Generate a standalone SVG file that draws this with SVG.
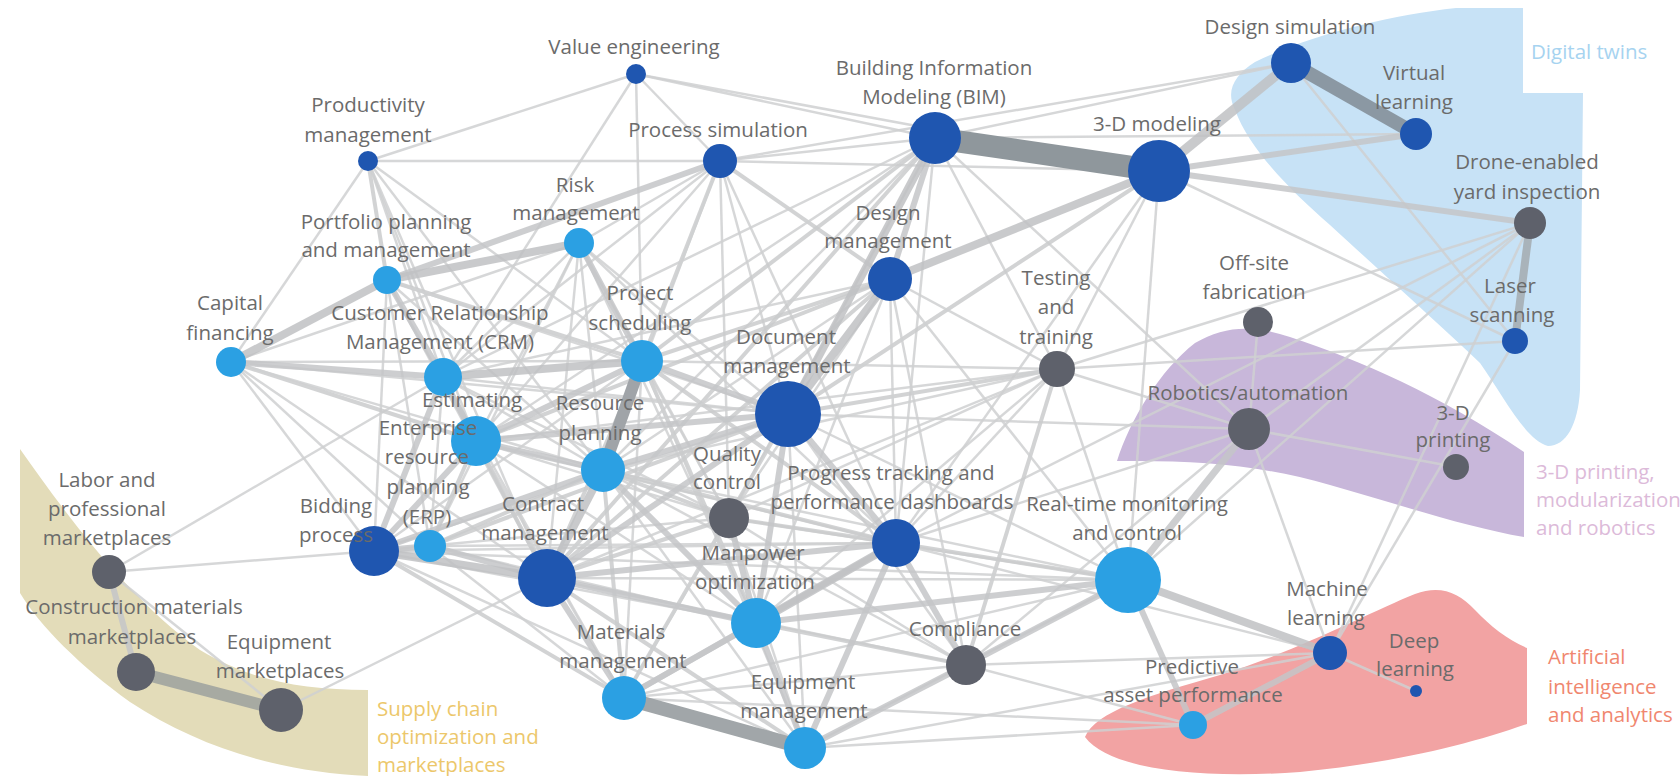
<svg xmlns="http://www.w3.org/2000/svg" width="1680" height="776" viewBox="0 0 1680 776">
<style>
text{font-family:"Open Sans","Noto Sans",sans-serif;font-size:20.5px;fill:#6b6b6b;text-anchor:middle}
.reg{text-anchor:start}
.D{fill:#1f56b0}.L{fill:#2ba0e3}.G{fill:#5e616b}
#edges line{stroke-opacity:0.85}
.a{stroke:#cfd0d1;stroke-width:2.5}
.b{stroke:#cacbcd;stroke-width:4}
.c{stroke:#c4c6c8;stroke-width:6}
.d{stroke:#bfc1c3;stroke-width:8}
</style>
<rect width="1680" height="776" fill="#ffffff"/>
<g id="regions">
<path d="M1456,8 L1523,8 L1523,93 L1583,93 L1580,390 C1578,425 1566,446 1548,446 C1525,440 1503,395 1480,363 C1440,325 1390,280 1330,225 C1290,190 1250,150 1235,110 C1225,90 1235,75 1255,62 C1310,35 1390,15 1456,8 Z" fill="#c7e2f6"/>
<path d="M1117,461 C1130,420 1160,370 1195,343 C1225,325 1255,325 1290,337 C1360,360 1440,395 1524,452 L1524,537 C1470,528 1400,505 1330,485 C1260,465 1200,460 1117,461 Z" fill="#c8b7da"/>
<path d="M1085,737 C1095,712 1150,695 1220,675 C1300,650 1370,612 1415,594 C1440,585 1458,592 1475,610 C1490,626 1508,640 1527,648 L1527,724 C1470,744 1400,762 1300,772 C1200,779 1110,770 1085,737 Z" fill="#f2a3a3"/>
<path d="M20,449 C70,520 130,600 200,650 C250,680 300,690 368,690 L368,776 C280,772 200,748 130,702 C80,666 40,626 20,593 Z" fill="#e3dcb9"/>
<text class="reg" x="1531" y="59" style="fill:#a6d3f0">Digital twins</text>
<text class="reg" x="1536" y="479" style="fill:#dcbad9">3-D printing,</text>
<text class="reg" x="1536" y="507" style="fill:#dcbad9">modularization</text>
<text class="reg" x="1536" y="535" style="fill:#dcbad9">and robotics</text>
<text class="reg" x="1548" y="664" style="fill:#f0876f">Artificial</text>
<text class="reg" x="1548" y="694" style="fill:#f0876f">intelligence</text>
<text class="reg" x="1548" y="722" style="fill:#f0876f">and analytics</text>
<text class="reg" x="377" y="716" style="fill:#ecc76b">Supply chain</text>
<text class="reg" x="377" y="744" style="fill:#ecc76b">optimization and</text>
<text class="reg" x="377" y="772" style="fill:#ecc76b">marketplaces</text>
</g>
<g id="edges">
<line class="a" x1="636" y1="74" x2="368" y2="161"/>
<line class="a" x1="636" y1="74" x2="720" y2="161"/>
<line class="a" x1="636" y1="74" x2="935" y2="138"/>
<line class="a" x1="636" y1="74" x2="1159" y2="171"/>
<line class="a" x1="636" y1="74" x2="642" y2="361"/>
<line class="a" x1="636" y1="74" x2="443" y2="377"/>
<line class="a" x1="368" y1="161" x2="720" y2="161"/>
<line class="a" x1="368" y1="161" x2="231" y2="362"/>
<line class="b" x1="368" y1="161" x2="387" y2="280"/>
<line class="a" x1="368" y1="161" x2="443" y2="377"/>
<line class="a" x1="368" y1="161" x2="476" y2="441"/>
<line class="a" x1="368" y1="161" x2="642" y2="361"/>
<line class="a" x1="368" y1="161" x2="603" y2="470"/>
<line class="a" x1="368" y1="161" x2="547" y2="578"/>
<line class="a" x1="720" y1="161" x2="935" y2="138"/>
<line class="a" x1="720" y1="161" x2="1159" y2="171"/>
<line class="a" x1="720" y1="161" x2="579" y2="243"/>
<line class="b" x1="720" y1="161" x2="642" y2="361"/>
<line class="a" x1="720" y1="161" x2="788" y2="414"/>
<line class="b" x1="720" y1="161" x2="890" y2="279"/>
<line class="a" x1="720" y1="161" x2="603" y2="470"/>
<line class="a" x1="720" y1="161" x2="476" y2="441"/>
<line class="a" x1="720" y1="161" x2="443" y2="377"/>
<line class="a" x1="720" y1="161" x2="896" y2="543"/>
<line class="a" x1="720" y1="161" x2="729" y2="518"/>
<line class="a" x1="720" y1="161" x2="1291" y2="63"/>
<line class="a" x1="935" y1="138" x2="1291" y2="63"/>
<line class="b" x1="935" y1="138" x2="642" y2="361"/>
<line class="a" x1="935" y1="138" x2="476" y2="441"/>
<line class="a" x1="935" y1="138" x2="443" y2="377"/>
<line class="b" x1="935" y1="138" x2="547" y2="578"/>
<line class="a" x1="935" y1="138" x2="603" y2="470"/>
<line class="a" x1="935" y1="138" x2="1057" y2="369"/>
<line class="a" x1="935" y1="138" x2="1249" y2="429"/>
<line class="a" x1="935" y1="138" x2="896" y2="543"/>
<line class="a" x1="935" y1="138" x2="729" y2="518"/>
<line class="a" x1="935" y1="138" x2="1416" y2="134"/>
<line class="a" x1="1159" y1="171" x2="1515" y2="341"/>
<line class="a" x1="1159" y1="171" x2="1057" y2="369"/>
<line class="b" x1="1159" y1="171" x2="788" y2="414"/>
<line class="a" x1="1159" y1="171" x2="896" y2="543"/>
<line class="a" x1="1159" y1="171" x2="1128" y2="580"/>
<line class="a" x1="1291" y1="63" x2="1515" y2="341"/>
<line class="a" x1="1530" y1="223" x2="1128" y2="580"/>
<line class="a" x1="1530" y1="223" x2="1249" y2="429"/>
<line class="a" x1="1530" y1="223" x2="1330" y2="653"/>
<line class="a" x1="1530" y1="223" x2="1057" y2="369"/>
<line class="a" x1="1530" y1="223" x2="896" y2="543"/>
<line class="a" x1="1515" y1="341" x2="1057" y2="369"/>
<line class="a" x1="1515" y1="341" x2="1330" y2="653"/>
<line class="a" x1="1258" y1="322" x2="1249" y2="429"/>
<line class="a" x1="1249" y1="429" x2="1456" y2="467"/>
<line class="a" x1="1249" y1="429" x2="1330" y2="653"/>
<line class="a" x1="1249" y1="429" x2="1057" y2="369"/>
<line class="a" x1="1249" y1="429" x2="896" y2="543"/>
<line class="a" x1="1249" y1="429" x2="788" y2="414"/>
<line class="a" x1="1249" y1="429" x2="966" y2="665"/>
<line class="b" x1="1057" y1="369" x2="788" y2="414"/>
<line class="a" x1="1057" y1="369" x2="642" y2="361"/>
<line class="a" x1="1057" y1="369" x2="603" y2="470"/>
<line class="a" x1="1057" y1="369" x2="476" y2="441"/>
<line class="a" x1="1057" y1="369" x2="547" y2="578"/>
<line class="a" x1="1057" y1="369" x2="896" y2="543"/>
<line class="a" x1="1057" y1="369" x2="1128" y2="580"/>
<line class="b" x1="1057" y1="369" x2="966" y2="665"/>
<line class="a" x1="1057" y1="369" x2="756" y2="623"/>
<line class="a" x1="1057" y1="369" x2="729" y2="518"/>
<line class="a" x1="1128" y1="580" x2="788" y2="414"/>
<line class="a" x1="1128" y1="580" x2="547" y2="578"/>
<line class="a" x1="1128" y1="580" x2="805" y2="748"/>
<line class="a" x1="1128" y1="580" x2="729" y2="518"/>
<line class="a" x1="1128" y1="580" x2="624" y2="698"/>
<line class="b" x1="1128" y1="580" x2="896" y2="543"/>
<line class="a" x1="1128" y1="580" x2="890" y2="279"/>
<line class="a" x1="1128" y1="580" x2="603" y2="470"/>
<line class="a" x1="1128" y1="580" x2="374" y2="551"/>
<line class="a" x1="1330" y1="653" x2="1416" y2="691"/>
<line class="a" x1="1330" y1="653" x2="966" y2="665"/>
<line class="a" x1="1330" y1="653" x2="896" y2="543"/>
<line class="a" x1="1330" y1="653" x2="805" y2="748"/>
<line class="a" x1="1193" y1="725" x2="805" y2="748"/>
<line class="a" x1="1193" y1="725" x2="624" y2="698"/>
<line class="a" x1="1193" y1="725" x2="966" y2="665"/>
<line class="a" x1="966" y1="665" x2="788" y2="414"/>
<line class="a" x1="966" y1="665" x2="547" y2="578"/>
<line class="b" x1="966" y1="665" x2="756" y2="623"/>
<line class="a" x1="966" y1="665" x2="624" y2="698"/>
<line class="a" x1="966" y1="665" x2="729" y2="518"/>
<line class="a" x1="966" y1="665" x2="890" y2="279"/>
<line class="a" x1="966" y1="665" x2="603" y2="470"/>
<line class="a" x1="109" y1="572" x2="374" y2="551"/>
<line class="a" x1="109" y1="572" x2="443" y2="377"/>
<line class="a" x1="109" y1="572" x2="281" y2="710"/>
<line class="a" x1="281" y1="710" x2="547" y2="578"/>
<line class="a" x1="374" y1="551" x2="231" y2="362"/>
<line class="a" x1="374" y1="551" x2="387" y2="280"/>
<line class="a" x1="374" y1="551" x2="642" y2="361"/>
<line class="b" x1="374" y1="551" x2="624" y2="698"/>
<line class="a" x1="374" y1="551" x2="756" y2="623"/>
<line class="a" x1="374" y1="551" x2="788" y2="414"/>
<line class="a" x1="374" y1="551" x2="729" y2="518"/>
<line class="a" x1="374" y1="551" x2="896" y2="543"/>
<line class="a" x1="374" y1="551" x2="805" y2="748"/>
<line class="b" x1="231" y1="362" x2="476" y2="441"/>
<line class="a" x1="231" y1="362" x2="642" y2="361"/>
<line class="a" x1="231" y1="362" x2="603" y2="470"/>
<line class="a" x1="231" y1="362" x2="430" y2="546"/>
<line class="a" x1="231" y1="362" x2="547" y2="578"/>
<line class="a" x1="231" y1="362" x2="579" y2="243"/>
<line class="a" x1="231" y1="362" x2="788" y2="414"/>
<line class="a" x1="443" y1="377" x2="579" y2="243"/>
<line class="a" x1="443" y1="377" x2="603" y2="470"/>
<line class="a" x1="443" y1="377" x2="547" y2="578"/>
<line class="a" x1="443" y1="377" x2="788" y2="414"/>
<line class="a" x1="443" y1="377" x2="430" y2="546"/>
<line class="a" x1="443" y1="377" x2="624" y2="698"/>
<line class="a" x1="443" y1="377" x2="729" y2="518"/>
<line class="b" x1="387" y1="280" x2="642" y2="361"/>
<line class="a" x1="387" y1="280" x2="476" y2="441"/>
<line class="a" x1="387" y1="280" x2="603" y2="470"/>
<line class="a" x1="387" y1="280" x2="788" y2="414"/>
<line class="a" x1="387" y1="280" x2="547" y2="578"/>
<line class="a" x1="387" y1="280" x2="430" y2="546"/>
<line class="a" x1="579" y1="243" x2="476" y2="441"/>
<line class="a" x1="579" y1="243" x2="603" y2="470"/>
<line class="a" x1="579" y1="243" x2="547" y2="578"/>
<line class="a" x1="579" y1="243" x2="788" y2="414"/>
<line class="a" x1="579" y1="243" x2="729" y2="518"/>
<line class="a" x1="579" y1="243" x2="756" y2="623"/>
<line class="a" x1="579" y1="243" x2="896" y2="543"/>
<line class="a" x1="579" y1="243" x2="430" y2="546"/>
<line class="a" x1="642" y1="361" x2="729" y2="518"/>
<line class="b" x1="642" y1="361" x2="756" y2="623"/>
<line class="b" x1="642" y1="361" x2="547" y2="578"/>
<line class="b" x1="642" y1="361" x2="896" y2="543"/>
<line class="a" x1="642" y1="361" x2="624" y2="698"/>
<line class="b" x1="642" y1="361" x2="890" y2="279"/>
<line class="a" x1="642" y1="361" x2="805" y2="748"/>
<line class="a" x1="890" y1="279" x2="603" y2="470"/>
<line class="b" x1="890" y1="279" x2="547" y2="578"/>
<line class="a" x1="890" y1="279" x2="896" y2="543"/>
<line class="b" x1="890" y1="279" x2="476" y2="441"/>
<line class="a" x1="890" y1="279" x2="729" y2="518"/>
<line class="a" x1="890" y1="279" x2="1057" y2="369"/>
<line class="a" x1="890" y1="279" x2="443" y2="377"/>
<line class="a" x1="890" y1="279" x2="756" y2="623"/>
<line class="b" x1="788" y1="414" x2="624" y2="698"/>
<line class="a" x1="788" y1="414" x2="805" y2="748"/>
<line class="b" x1="476" y1="441" x2="430" y2="546"/>
<line class="b" x1="476" y1="441" x2="547" y2="578"/>
<line class="a" x1="476" y1="441" x2="729" y2="518"/>
<line class="a" x1="476" y1="441" x2="756" y2="623"/>
<line class="a" x1="476" y1="441" x2="624" y2="698"/>
<line class="a" x1="476" y1="441" x2="896" y2="543"/>
<line class="b" x1="603" y1="470" x2="729" y2="518"/>
<line class="b" x1="603" y1="470" x2="624" y2="698"/>
<line class="a" x1="603" y1="470" x2="805" y2="748"/>
<line class="b" x1="603" y1="470" x2="896" y2="543"/>
<line class="b" x1="603" y1="470" x2="430" y2="546"/>
<line class="a" x1="430" y1="546" x2="624" y2="698"/>
<line class="a" x1="430" y1="546" x2="756" y2="623"/>
<line class="a" x1="430" y1="546" x2="896" y2="543"/>
<line class="b" x1="430" y1="546" x2="788" y2="414"/>
<line class="b" x1="547" y1="578" x2="729" y2="518"/>
<line class="b" x1="547" y1="578" x2="805" y2="748"/>
<line class="b" x1="729" y1="518" x2="896" y2="543"/>
<line class="a" x1="729" y1="518" x2="624" y2="698"/>
<line class="a" x1="729" y1="518" x2="805" y2="748"/>
<line class="c" x1="109" y1="572" x2="136" y2="672"/>
<line class="c" x1="1159" y1="171" x2="1416" y2="134"/>
<line class="c" x1="1159" y1="171" x2="1530" y2="223"/>
<line class="c" x1="1128" y1="580" x2="1193" y2="725"/>
<line class="c" x1="1330" y1="653" x2="1193" y2="725"/>
<line class="c" x1="1128" y1="580" x2="966" y2="665"/>
<line class="c" x1="547" y1="578" x2="788" y2="414"/>
<line class="c" x1="476" y1="441" x2="788" y2="414"/>
<line class="c" x1="476" y1="441" x2="642" y2="361"/>
<line class="c" x1="430" y1="546" x2="547" y2="578"/>
<line class="c" x1="374" y1="551" x2="476" y2="441"/>
<line class="c" x1="443" y1="377" x2="476" y2="441"/>
<line class="c" x1="624" y1="698" x2="756" y2="623"/>
<line class="c" x1="756" y1="623" x2="805" y2="748"/>
<line class="c" x1="547" y1="578" x2="624" y2="698"/>
<line class="c" x1="720" y1="161" x2="387" y2="280"/>
<line class="c" x1="603" y1="470" x2="788" y2="414"/>
<line class="c" x1="642" y1="361" x2="788" y2="414"/>
<line class="c" x1="756" y1="623" x2="788" y2="414"/>
<line class="c" x1="896" y1="543" x2="788" y2="414"/>
<line class="c" x1="579" y1="243" x2="642" y2="361"/>
<line class="c" x1="387" y1="280" x2="443" y2="377"/>
<line class="c" x1="231" y1="362" x2="443" y2="377"/>
<line class="c" x1="374" y1="551" x2="603" y2="470"/>
<line class="c" x1="476" y1="441" x2="603" y2="470"/>
<line class="c" x1="547" y1="578" x2="756" y2="623"/>
<line class="c" x1="547" y1="578" x2="896" y2="543"/>
<line class="c" x1="624" y1="698" x2="896" y2="543"/>
<line class="c" x1="805" y1="748" x2="896" y2="543"/>
<line class="c" x1="966" y1="665" x2="896" y2="543"/>
<line class="c" x1="729" y1="518" x2="756" y2="623"/>
<line class="c" x1="603" y1="470" x2="756" y2="623"/>
<line class="c" x1="443" y1="377" x2="374" y2="551"/>
<line class="c" x1="430" y1="546" x2="374" y2="551"/>
<line class="c" x1="966" y1="665" x2="805" y2="748"/>
<line class="c" x1="1128" y1="580" x2="756" y2="623"/>
<line class="c" x1="935" y1="138" x2="890" y2="279"/>
<line class="c" x1="1128" y1="580" x2="1249" y2="429" style="stroke-width:7"/>
<line class="d" x1="1159" y1="171" x2="1291" y2="63" style="stroke-width:10"/>
<line class="d" x1="1159" y1="171" x2="890" y2="279"/>
<line class="d" x1="935" y1="138" x2="788" y2="414"/>
<line class="d" x1="890" y1="279" x2="788" y2="414"/>
<line class="d" x1="231" y1="362" x2="387" y2="280"/>
<line class="d" x1="387" y1="280" x2="579" y2="243"/>
<line class="d" x1="1128" y1="580" x2="1330" y2="653"/>
<line class="d" x1="374" y1="551" x2="547" y2="578"/>
<line class="d" x1="547" y1="578" x2="603" y2="470"/>
<line class="d" x1="756" y1="623" x2="896" y2="543"/>
<line class="d" x1="443" y1="377" x2="642" y2="361"/>
<line x1="935" y1="138" x2="1159" y2="171" style="stroke:#8f979c;stroke-width:22;stroke-opacity:1"/>
<line x1="1291" y1="63" x2="1416" y2="134" style="stroke:#8b98a3;stroke-width:14;stroke-opacity:1"/>
<line x1="1530" y1="223" x2="1515" y2="341" style="stroke:#a9b3ba;stroke-width:8;stroke-opacity:1"/>
<line x1="136" y1="672" x2="281" y2="710" style="stroke:#a7aaa2;stroke-width:12;stroke-opacity:1"/>
<line x1="624" y1="698" x2="805" y2="748" style="stroke:#a1a6a9;stroke-width:14;stroke-opacity:1"/>
<line x1="642" y1="361" x2="603" y2="470" style="stroke:#a0a4a8;stroke-width:12;stroke-opacity:1"/>
</g>
<g id="n-value"><circle class="D" cx="636" cy="74" r="10"/><text x="634" y="54">Value engineering</text></g>
<g id="n-prod"><circle class="D" cx="368" cy="161" r="10"/><text x="368" y="112">Productivity</text><text x="368" y="142">management</text></g>
<g id="n-procsim"><circle class="D" cx="720" cy="161" r="17"/><text x="718" y="137">Process simulation</text></g>
<g id="n-bim"><circle class="D" cx="935" cy="138" r="26"/><text x="934" y="75">Building Information</text><text x="934" y="104">Modeling (BIM)</text></g>
<g id="n-model3d"><circle class="D" cx="1159" cy="171" r="31"/><text x="1157" y="131">3-D modeling</text></g>
<g id="n-dsim"><circle class="D" cx="1291" cy="63" r="20"/><text x="1290" y="34">Design simulation</text></g>
<g id="n-vlearn"><circle class="D" cx="1416" cy="134" r="16"/><text x="1414" y="80">Virtual</text><text x="1414" y="109">learning</text></g>
<g id="n-drone"><circle class="G" cx="1530" cy="223" r="16"/><text x="1527" y="169">Drone-enabled</text><text x="1527" y="199">yard inspection</text></g>
<g id="n-laser"><circle class="D" cx="1515" cy="341" r="13"/><text x="1510" y="293">Laser</text><text x="1512" y="322">scanning</text></g>
<g id="n-offsite"><circle class="G" cx="1258" cy="322" r="15"/><text x="1254" y="270">Off-site</text><text x="1254" y="299">fabrication</text></g>
<g id="n-robot"><circle class="G" cx="1249" cy="429" r="21"/><text x="1248" y="400">Robotics/automation</text></g>
<g id="n-print3d"><circle class="G" cx="1456" cy="467" r="13"/><text x="1453" y="420">3-D</text><text x="1453" y="447">printing</text></g>
<g id="n-testing"><circle class="G" cx="1057" cy="369" r="18"/><text x="1056" y="285">Testing</text><text x="1056" y="314">and</text><text x="1056" y="344">training</text></g>
<g id="n-dmgmt"><circle class="D" cx="890" cy="279" r="22"/><text x="888" y="220">Design</text><text x="888" y="248">management</text></g>
<g id="n-risk"><circle class="L" cx="579" cy="243" r="15"/><text x="575" y="192">Risk</text><text x="576" y="220">management</text></g>
<g id="n-portfolio"><circle class="L" cx="387" cy="280" r="14"/><text x="386" y="229">Portfolio planning</text><text x="386" y="257">and management</text></g>
<g id="n-capital"><circle class="L" cx="231" cy="362" r="15"/><text x="230" y="310">Capital</text><text x="230" y="340">financing</text></g>
<g id="n-crm"><circle class="L" cx="443" cy="377" r="19"/><text x="440" y="320">Customer Relationship</text><text x="440" y="349">Management (CRM)</text></g>
<g id="n-projsched"><circle class="L" cx="642" cy="361" r="21"/><text x="640" y="300">Project</text><text x="640" y="330">scheduling</text></g>
<g id="n-docmgmt"><circle class="D" cx="788" cy="414" r="33"/><text x="786" y="344">Document</text><text x="787" y="373">management</text></g>
<g id="n-estimating"><circle class="L" cx="476" cy="441" r="25"/><text x="472" y="407">Estimating</text></g>
<g id="n-resource"><circle class="L" cx="603" cy="470" r="22"/><text x="600" y="410">Resource</text><text x="600" y="440">planning</text></g>
<g id="n-bidding"><circle class="D" cx="374" cy="551" r="25"/><text x="336" y="513">Bidding</text><text x="336" y="542">process</text></g>
<g id="n-erp"><circle class="L" cx="430" cy="546" r="16"/><text x="428" y="435">Enterprise</text><text x="427" y="464">resource</text><text x="428" y="494">planning</text><text x="427" y="524">(ERP)</text></g>
<g id="n-contract"><circle class="D" cx="547" cy="578" r="29"/><text x="543" y="511">Contract</text><text x="545" y="540">management</text></g>
<g id="n-quality"><circle class="G" cx="729" cy="518" r="20"/><text x="727" y="461">Quality</text><text x="727" y="489">control</text></g>
<g id="n-progress"><circle class="D" cx="896" cy="543" r="24"/><text x="891" y="480">Progress tracking and</text><text x="892" y="509">performance dashboards</text></g>
<g id="n-realtime"><circle class="L" cx="1128" cy="580" r="33"/><text x="1127" y="511">Real-time monitoring</text><text x="1127" y="540">and control</text></g>
<g id="n-manpower"><circle class="L" cx="756" cy="623" r="25"/><text x="753" y="560">Manpower</text><text x="755" y="589">optimization</text></g>
<g id="n-materials"><circle class="L" cx="624" cy="698" r="22"/><text x="621" y="639">Materials</text><text x="623" y="668">management</text></g>
<g id="n-equipmgmt"><circle class="L" cx="805" cy="748" r="21"/><text x="803" y="689">Equipment</text><text x="804" y="718">management</text></g>
<g id="n-compliance"><circle class="G" cx="966" cy="665" r="20"/><text x="965" y="636">Compliance</text></g>
<g id="n-ml"><circle class="D" cx="1330" cy="653" r="17"/><text x="1327" y="596">Machine</text><text x="1326" y="625">learning</text></g>
<g id="n-deep"><circle class="D" cx="1416" cy="691" r="6"/><text x="1414" y="648">Deep</text><text x="1415" y="676">learning</text></g>
<g id="n-predictive"><circle class="L" cx="1193" cy="725" r="14"/><text x="1192" y="674">Predictive</text><text x="1193" y="702">asset performance</text></g>
<g id="n-labor"><circle class="G" cx="109" cy="572" r="17"/><text x="107" y="487">Labor and</text><text x="107" y="516">professional</text><text x="107" y="545">marketplaces</text></g>
<g id="n-constr"><circle class="G" cx="136" cy="672" r="19"/><text x="134" y="614">Construction materials</text><text x="132" y="644">marketplaces</text></g>
<g id="n-equipmkt"><circle class="G" cx="281" cy="710" r="22"/><text x="279" y="649">Equipment</text><text x="280" y="678">marketplaces</text></g>
</svg>
